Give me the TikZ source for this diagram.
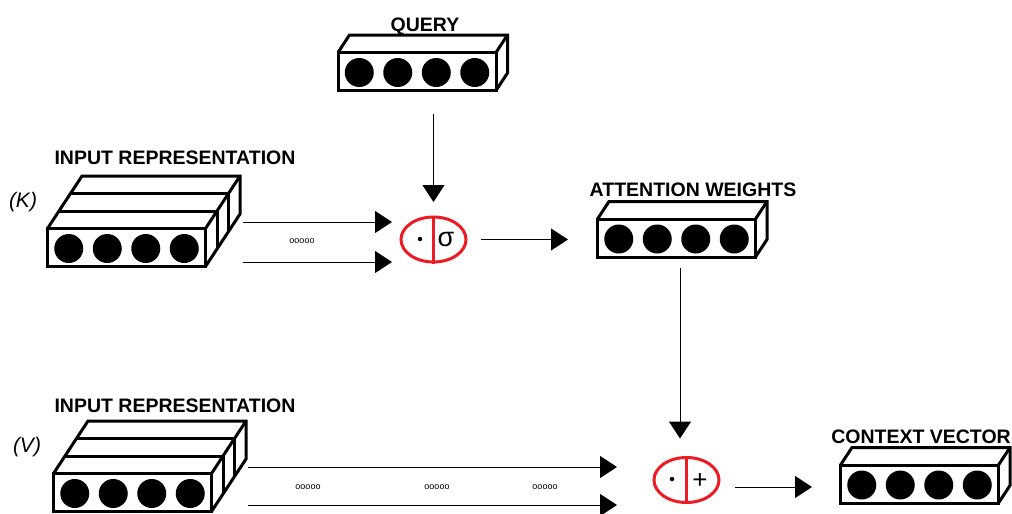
\documentclass[tikz,border=0pt]{standalone}
\usepackage{fontspec}
\setmainfont{Liberation Sans}
\usetikzlibrary{arrows.meta,shapes.geometric,calc}
\definecolor{opred}{RGB}{237,28,36}

\tikzset{
  face/.style={draw, line width=3pt, minimum width=158pt, minimum height=38pt, inner sep=0pt, outer sep=0pt},
  edge/.style={line width=3pt, line join=miter},
  bead/.style={circle, fill=black, minimum size=29pt, inner sep=0pt},
  title/.style={font=\bfseries\fontsize{19.5}{20}\selectfont, anchor=base, inner sep=0pt},
  tag/.style={font=\itshape\fontsize{21}{22}\selectfont, anchor=base, inner sep=0pt},
  gap/.style={font=\fontsize{9}{9}\selectfont, inner sep=0pt},
  op/.style={ellipse, draw=opred, line width=3pt, minimum width=65pt, minimum height=45pt, inner sep=0pt},
  divider/.style={draw=opred, line width=3pt},
  link/.style={line width=1pt, -{Triangle[length=17pt,width=22pt]}},
  dotmark/.style={circle, fill=black, minimum size=4.5pt, inner sep=0pt},
  glyph/.style={inner sep=0pt},
}

% slab depth step
\def\sdx{11.5}
\def\sdy{-17.5}

% #1 name, #2,#3 centre of the front face, #4 number of slabs
\newcommand\slabstack[4]{%
  \node[face] (#1) at (#2,#3) {};
  \draw[edge] (#1.north west) -- ++({#4*\sdx},{#4*\sdy})
    -- ($(#1.north east)+({#4*\sdx},{#4*\sdy})$)
    -- ($(#1.south east)+({#4*\sdx},{#4*\sdy})$) -- (#1.south east);
  \draw[edge] (#1.north east) -- ++({#4*\sdx},{#4*\sdy});
  \ifnum#4>1
    \foreach \k in {2,...,#4}{%
      \draw[edge] ($(#1.north west)+({(\k-1)*\sdx},{(\k-1)*\sdy})$)
        -- ($(#1.north east)+({(\k-1)*\sdx},{(\k-1)*\sdy})$)
        -- ($(#1.south east)+({(\k-1)*\sdx},{(\k-1)*\sdy})$);
    }%
  \fi
  \foreach \i/\o in {1/-57.75,2/-19.25,3/19.25,4/57.75}
    \node[bead] (#1-b\i) at ($(#1.center)+(\o,1)$) {};
}

\begin{document}
\begin{tikzpicture}[x=1pt,y=-1pt]
  \useasboundingbox (0,0) rectangle (1012,514);
  \fill[white] (0,0) rectangle (1012,514);

  % vectors
  \slabstack{Q}{417}{71.5}{1}
  \slabstack{K}{126.5}{247.5}{3}
  \slabstack{A}{676.5}{238}{1}
  \slabstack{V}{132.5}{492.5}{3}
  \slabstack{C}{919.5}{484}{1}

  % labels
  \node[title] (tQ) at (425,31.5) {QUERY};
  \node[title] (tK) at (175,164) {INPUT REPRESENTATION};
  \node[title] (tA) at (693,196) {ATTENTION WEIGHTS};
  \node[title] (tV) at (175,412) {INPUT REPRESENTATION};
  \node[title] (tC) at (921,443) {CONTEXT VECTOR};
  \node[tag] (lK) at (23,207) {(K)};
  \node[tag] (lV) at (27,452) {(V)};

  % score operator: dot product then softmax
  \node[op] (e1) at (433.5,239.5) {};
  \draw[divider] (e1.north) -- (e1.south);
  \node[dotmark] (e1d) at (420,239) {};
  \node[glyph, font=\fontsize{27}{27}\selectfont] (e1s) at (446,239) {σ};

  % weighted sum operator
  \node[op] (e2) at (686.5,480) {};
  \draw[divider] (e2.north) -- (e2.south);
  \node[dotmark] (e2d) at (672,479) {};
  \node[glyph, font=\fontsize{26}{26}\selectfont] (e2p) at (700,481) {+};

  % elided items between arrows
  \node[gap] (gK) at (302,241) {ooooo};
  \node[gap] (gV1) at (308,487) {ooooo};
  \node[gap] (gV2) at (437,487) {ooooo};
  \node[gap] (gV3) at (545,487) {ooooo};

  % connectors
  \coordinate (qo) at (433.5,114);
  \draw[link, shorten >=13.5pt] (qo) -- (e1.north);

  \coordinate (kt) at (243,222);
  \coordinate (kb) at (243,262);
  \draw[link, shorten >=7.5pt] (kt) -- (kt -| e1.west);
  \draw[link, shorten >=7.5pt] (kb) -- (kb -| e1.west);

  \draw[link, shorten <=13.5pt, shorten >=29.5pt] (e1.east) -- (e1.east -| A.west);

  \coordinate (ao) at (680,268);
  \draw[link, shorten >=17.5pt] (ao) -- (ao |- e2.north);

  \coordinate (vt) at (248,467);
  \coordinate (vb) at (248,505);
  \draw[link, shorten >=35.5pt] (vt) -- (vt -| e2.west);
  \draw[link, shorten >=35.5pt] (vb) -- (vb -| e2.west);

  \coordinate (ci) at (735,487);
  \draw[link, shorten >=28.5pt] (ci) -- (ci -| C.west);
\end{tikzpicture}
\end{document}
